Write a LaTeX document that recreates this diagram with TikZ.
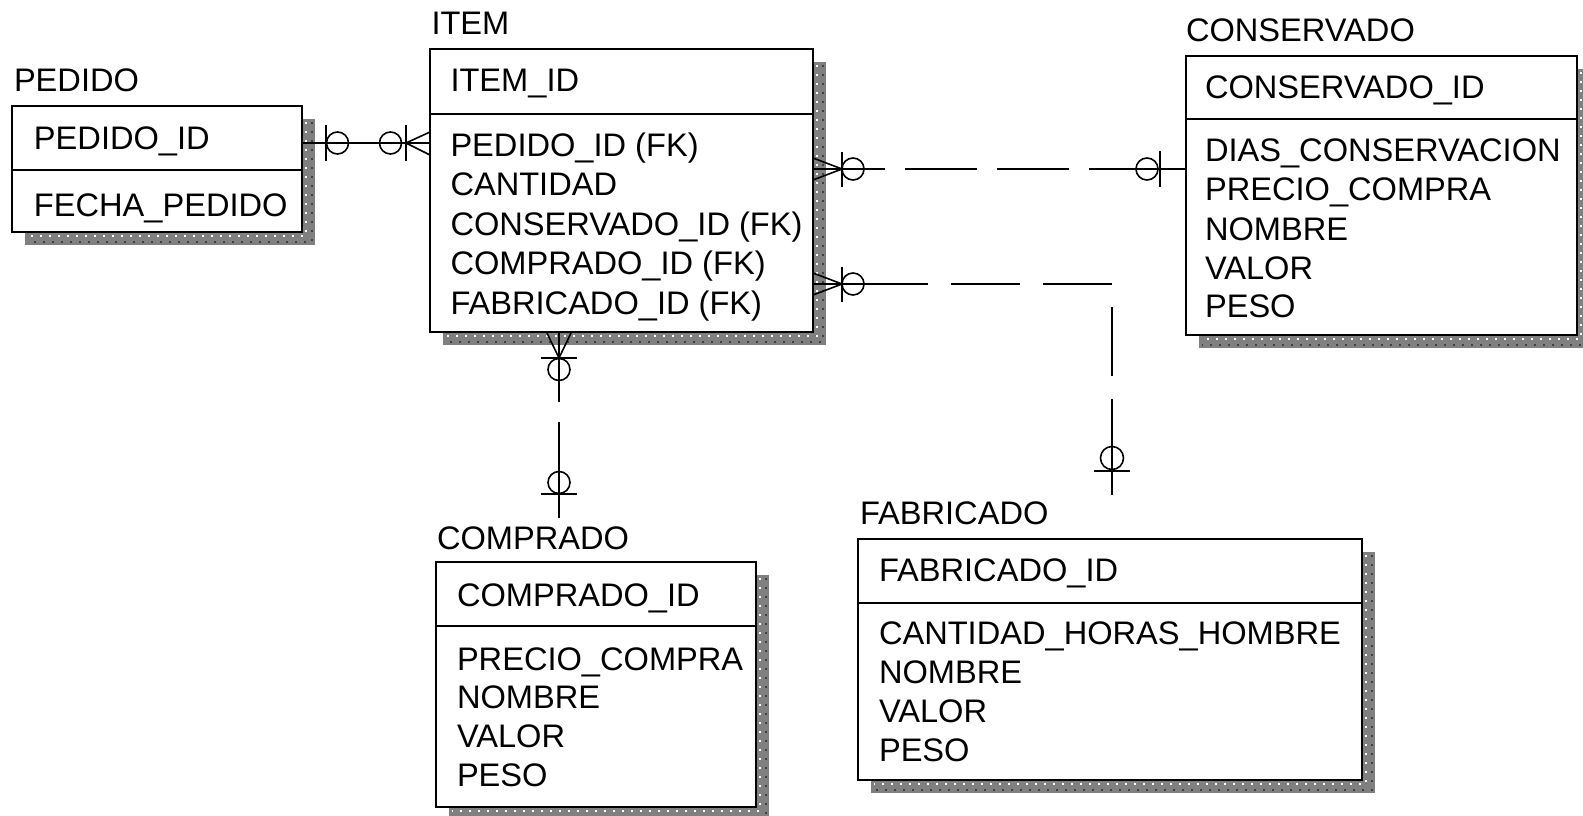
\documentclass[tikz,border=0pt]{standalone}
\usepackage{fontspec}
\setmainfont{Liberation Sans}
\usetikzlibrary{calc}
\definecolor{shadowgray}{RGB}{128,128,128}
\tikzset{
  ent/.style={draw=black, fill=white, line width=1.6pt, inner sep=0pt, outer sep=0pt, rectangle},
  divline/.style={line width=1.6pt},
  lbl/.style={anchor=base west, inner sep=0pt, outer sep=0pt, font=\fontsize{32.6}{38}\selectfont},
  rel/.style={line width=1.6pt},
  shd/.style={fill=shadowgray},
  wdots/.style={draw=white, line width=2pt, dash pattern=on 2pt off 7pt},
  bdots/.style={draw=black!75, line width=2pt, dash pattern=on 2pt off 7pt},
}
% name, L, T, R, B, divider y
\newcommand\entbox[6]{%
  \fill[shd] (#2+13,#3+13) rectangle (#4+13,#5+13);
  \draw[wdots] (#4+4,#3+16) -- (#4+4,#5+4) -- (#2+16,#5+4);
  \draw[bdots] (#4+10,#3+16) -- (#4+10,#5+10) -- (#2+16,#5+10);
  \node[ent, minimum width={#4-#2}, minimum height={#5-#3}] (#1) at ({(#2+#4)/2},{(#3+#5)/2}) {};
  \draw[divline] (#2,#6) -- (#4,#6);
}
\begin{document}
\begin{tikzpicture}[x=1pt,y=-1pt]
\useasboundingbox (0,0) rectangle (1583,816);
\begin{scope}
\clip (0,0) rectangle (1583,816);

% ---------- entities ----------
\entbox{pedido}{12}{106}{302}{232}{170}
\entbox{item}{430}{49}{813}{332}{114}
\entbox{conservado}{1186}{56}{1577}{335}{119}
\entbox{comprado}{436}{562}{756}{807}{626}
\entbox{fabricado}{858}{539}{1362}{780}{603}

% ---------- texts ----------
\node[lbl] (tpedido) at (14,92) {PEDIDO};
\node[lbl] (pedido1) at (34,149) {PEDIDO\_ID};
\node[lbl] (pedido2) at (34,216) {FECHA\_PEDIDO};

\node[lbl] (titem) at (431.5,35) {ITEM};
\node[lbl] (item1) at (450.5,92) {ITEM\_ID};
\node[lbl] (item2) at (450.5,156) {PEDIDO\_ID (FK)};
\node[lbl] (item3) at (450.5,195.5) {CANTIDAD};
\node[lbl] (item4) at (450.5,235) {CONSERVADO\_ID (FK)};
\node[lbl] (item5) at (450.5,274.5) {COMPRADO\_ID (FK)};
\node[lbl] (item6) at (450.5,314) {FABRICADO\_ID (FK)};

\node[lbl] (tconservado) at (1186,42) {CONSERVADO};
\node[lbl] (cons1) at (1205,98.5) {CONSERVADO\_ID};
\node[lbl] (cons2) at (1205,161) {DIAS\_CONSERVACION};
\node[lbl] (cons3) at (1205,200.5) {PRECIO\_COMPRA};
\node[lbl] (cons4) at (1205,240) {NOMBRE};
\node[lbl] (cons5) at (1205,279) {VALOR};
\node[lbl] (cons6) at (1205,317.5) {PESO};

\node[lbl] (tcomprado) at (437,549.5) {COMPRADO};
\node[lbl] (comp1) at (457,606) {COMPRADO\_ID};
\node[lbl] (comp2) at (457,670) {PRECIO\_COMPRA};
\node[lbl] (comp3) at (457,708) {NOMBRE};
\node[lbl] (comp4) at (457,747.5) {VALOR};
\node[lbl] (comp5) at (457,786) {PESO};

\node[lbl] (tfabricado) at (860,524.5) {FABRICADO};
\node[lbl] (fab1) at (879,581) {FABRICADO\_ID};
\node[lbl] (fab2) at (879,644.5) {CANTIDAD\_HORAS\_HOMBRE};
\node[lbl] (fab3) at (879,683) {NOMBRE};
\node[lbl] (fab4) at (879,722.5) {VALOR};
\node[lbl] (fab5) at (879,761) {PESO};

% ---------- helper coordinates ----------
\coordinate (ya) at (0,143);
\coordinate (yb) at (0,169);
\coordinate (yc) at (0,284);
\coordinate (xd) at (559,0);
\coordinate (fcorner) at (1112,284);
\coordinate (fabend) at (1112,495);
\coordinate (compend) at (559,518);

% ---------- PEDIDO -- ITEM (solid) ----------
\draw[rel] (pedido.east |- ya) -- (item.west |- ya);
\draw[rel] (326,125) -- (326,161);
\draw[rel] (337.5,143) circle[radius=11];
\draw[rel] (390.5,143) circle[radius=11];
\draw[rel] (406,125) -- (406,161);
\draw[rel] (item.west |- 0,132) -- (406,143) -- (item.west |- 0,155);

% ---------- ITEM -- CONSERVADO (dashed) ----------
\draw[rel, dash pattern=on 72pt off 20pt] (item.east |- yb) -- (conservado.west |- yb);
\draw[rel] (item.east |- yb) -- (865,169);
\draw[rel] (1135,169) -- (conservado.west |- yb);
\draw[rel] (item.east |- 0,158) -- (842,169) -- (item.east |- 0,180);
\draw[rel] (842,151.5) -- (842,186.5);
\draw[rel] (853,169) circle[radius=11];
\draw[rel] (1147,169) circle[radius=11];
\draw[rel] (1160,151) -- (1160,187);

% ---------- ITEM -- FABRICADO (dashed, elbow) ----------
\draw[rel, dash pattern=on 69pt off 23pt, dash phase=46pt] (item.east |- yc) -- (fcorner) -- (fabend);
\draw[rel] (item.east |- yc) -- (866,284);
\draw[rel] (1112,440) -- (fabend);
\draw[rel] (item.east |- 0,273) -- (842,284) -- (item.east |- 0,295);
\draw[rel] (842,266.5) -- (842,301.5);
\draw[rel] (853,284) circle[radius=11];
\draw[rel] (1112,458) circle[radius=11.5];
\draw[rel] (1094,471) -- (1130,471);

% ---------- ITEM -- COMPRADO (dashed) ----------
\draw[rel, dash pattern=on 70pt off 20pt] (item.south -| xd) -- (compend);
\draw[rel] (item.south -| xd) -- (559,385);
\draw[rel] (559,460) -- (compend);
\draw[rel] (547,333) -- (559,358) -- (571,333);
\draw[rel] (541,358) -- (577,358);
\draw[rel] (559,369.5) circle[radius=11];
\draw[rel] (559,482.5) circle[radius=11];
\draw[rel] (541,494) -- (577,494);
\end{scope}
\end{tikzpicture}
\end{document}
